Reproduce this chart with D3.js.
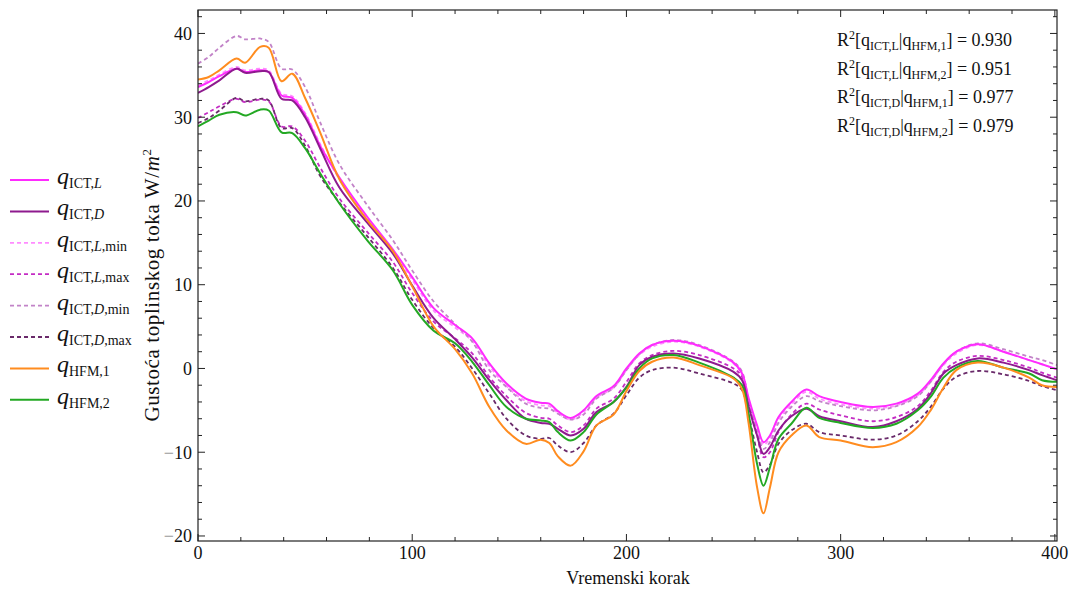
<!DOCTYPE html>
<html>
<head>
<meta charset="utf-8">
<script src="https://cdn.jsdelivr.net/npm/d3@7"></script>
<style>
body { margin: 0; background: #fff; }
text { font-family: "Liberation Serif", "Times New Roman", serif; fill: #111; }
</style>
</head>
<body>
<svg id="chart" width="1069" height="591"></svg>
<script>
var steps = [0, 5, 10, 18, 22, 29, 33, 39, 44, 50, 57, 66, 79, 91, 100, 110, 120, 128, 136, 144,
    153, 160, 164, 168, 174, 180, 186, 194, 200, 206, 212, 222, 234, 250, 254, 257, 261, 264, 267, 271,
    277, 284, 290, 300, 315, 326, 336, 342, 348, 354, 364, 376, 388, 394, 401];

var qIctL = [33.6, 34.2, 34.9, 35.8, 35.4, 35.6, 35.4, 32.6, 32.3, 30.3, 26.6, 22.8, 18.1, 14.2, 10.9, 7.2, 5.2, 3.6, 0.6, -1.8,
    -3.6, -4.1, -4.2, -5.1, -5.9, -5.0, -3.3, -2.1, 0.0, 1.8, 2.8, 3.3, 2.7, 0.7, -0.6, -3.5, -6.8, -8.8, -8.0, -5.8,
    -4.0, -2.5, -3.3, -4.0, -4.6, -4.2, -3.0, -1.4, 0.6, 2.0, 2.9, 2.0, 1.0, 0.5, -0.1];

var qIctD = [32.9, 33.6, 34.4, 35.8, 35.3, 35.5, 35.4, 32.2, 32.0, 30.0, 26.3, 21.6, 17.4, 13.7, 9.9, 6.0, 3.5, 1.3, -1.4, -3.8,
    -6.0, -6.5, -6.6, -7.2, -8.0, -7.2, -5.2, -4.0, -2.2, 0.4, 1.4, 1.8, 1.2, -0.4, -1.4, -4.5, -8.0, -10.2, -9.4, -7.4,
    -5.7, -4.8, -5.7, -6.3, -7.0, -6.3, -4.8, -3.0, -0.6, 0.4, 1.2, 0.7, -0.2, -0.8, -1.4];

var qIctLmin = [33.8, 34.4, 35.1, 36.0, 35.6, 35.8, 35.6, 32.8, 32.5, 30.5, 26.8, 22.6, 18.0, 14.0, 10.6, 6.9, 4.9, 3.3, 0.3, -2.1,
    -3.9, -4.4, -4.5, -5.3, -6.1, -5.2, -3.5, -2.3, -0.2, 1.6, 2.6, 3.2, 2.6, 0.6, -0.8, -3.8, -7.1, -9.1, -8.3, -6.1,
    -4.3, -2.8, -3.6, -4.3, -4.8, -4.4, -3.2, -1.6, 0.4, 1.8, 2.8, 2.0, 1.0, 0.5, -0.1];

var qIctLmax = [29.9, 30.6, 31.3, 32.2, 31.8, 32.1, 31.9, 28.9, 28.9, 27.2, 24.0, 20.3, 16.3, 12.7, 9.0, 5.6, 3.6, 1.8, -1.0, -3.3,
    -5.3, -5.9, -6.0, -6.8, -7.6, -6.8, -4.8, -3.6, -1.6, 0.6, 1.6, 2.1, 1.6, 0.0, -1.0, -4.0, -8.0, -10.6, -10.0, -7.6,
    -5.5, -4.2, -4.9, -5.6, -6.3, -5.8, -4.5, -2.7, -0.4, 0.8, 1.5, 1.0, 0.1, -0.5, -1.1];

var qIctDmin = [36.4, 37.2, 38.3, 39.7, 39.3, 39.4, 39.0, 35.8, 35.7, 33.6, 29.4, 24.4, 19.5, 15.3, 11.7, 8.0, 5.3, 3.2, -0.2, -2.2,
    -4.2, -4.7, -4.8, -5.4, -6.1, -5.5, -3.6, -2.3, -0.2, 1.7, 2.8, 3.4, 2.8, 0.8, -0.4, -3.8, -7.5, -9.6, -8.8, -6.5,
    -4.6, -3.3, -3.9, -4.5, -5.0, -4.5, -3.3, -1.6, 0.5, 2.0, 3.0, 2.3, 1.4, 1.0, 0.4];

var qIctDmax = [29.3, 29.9, 30.8, 32.3, 31.9, 32.2, 32.0, 28.7, 28.7, 26.6, 23.0, 19.8, 15.8, 12.0, 8.2, 4.8, 2.6, 0.0, -3.0, -6.0,
    -8.0, -8.4, -8.3, -9.2, -10.0, -8.9, -6.8, -5.4, -3.2, -1.1, -0.2, 0.1, -0.6, -1.8, -2.6, -5.5, -10.0, -12.4, -11.5, -9.0,
    -7.4, -6.6, -7.6, -8.0, -8.5, -8.0, -6.3, -4.6, -2.4, -1.0, -0.3, -0.7, -1.5, -2.1, -2.6];

var qHfm1 = [34.5, 34.8, 35.6, 37.0, 36.5, 38.4, 38.3, 34.3, 35.2, 32.3, 28.2, 22.6, 17.7, 14.0, 9.8, 5.0, 2.3, -0.6, -4.6, -7.4,
    -9.0, -8.5, -8.9, -10.5, -11.6, -9.9, -6.8, -5.5, -2.7, -0.3, 0.8, 1.3, 0.4, -1.2, -2.5, -6.5, -14.2, -17.3, -14.2, -10.0,
    -8.0, -6.8, -8.2, -8.6, -9.4, -8.8, -7.0, -5.0, -2.3, -0.2, 0.7, 0.1, -1.1, -2.0, -2.2];

var qHfm2 = [28.9, 29.6, 30.3, 30.6, 30.2, 30.9, 30.8, 28.2, 28.1, 26.3, 23.3, 19.7, 15.3, 11.7, 7.6, 4.5, 3.0, 0.8, -2.0, -4.6,
    -6.0, -6.2, -6.4, -7.6, -8.6, -7.6, -5.5, -4.0, -2.3, 0.0, 1.2, 1.6, 0.7, -1.1, -2.0, -5.4, -11.4, -14.0, -11.8, -8.4,
    -6.6, -4.7, -5.9, -6.5, -7.1, -6.6, -5.0, -3.4, -1.1, 0.1, 0.9, 0.1, -0.6, -1.4, -1.6];

var xMajor = [0, 100, 200, 300, 400];
var yMajor = [-20, -10, 0, 10, 20, 30, 40];

// legend subscripts: [text, italic]
var legendSubs = [
    [["ICT,", false], ["L", true]],
    [["ICT,", false], ["D", true]],
    [["ICT,", false], ["L", true], [",min", false]],
    [["ICT,", false], ["L", true], [",max", false]],
    [["ICT,", false], ["D", true], [",min", false]],
    [["ICT,", false], ["D", true], [",max", false]],
    [["HFM,1", false]],
    [["HFM,2", false]]
];

var r2Pairs = [["ICT,L", "HFM,1"], ["ICT,L", "HFM,2"], ["ICT,D", "HFM,1"], ["ICT,D", "HFM,2"]];
var r2Values = ["0.930", "0.951", "0.977", "0.979"];

var series = [
    {values: qIctL, color: "#ff2bff", dash: null, width: 2},
    {values: qIctD, color: "#8e1a8e", dash: null, width: 2},
    {values: qIctLmin, color: "#ff8cff", dash: "4,3", width: 1.8},
    {values: qIctLmax, color: "#c42cc4", dash: "4,3", width: 1.8},
    {values: qIctDmin, color: "#c283c8", dash: "4,3", width: 1.8},
    {values: qIctDmax, color: "#6a2a6a", dash: "4,3", width: 1.8},
    {values: qHfm1, color: "#ff8c1f", dash: null, width: 2},
    {values: qHfm2, color: "#23a823", dash: null, width: 2}
];

var plotL = 198, plotR = 1057, plotT = 10, plotB = 541;

var svg = d3.select("#chart");

var x = d3.scaleLinear().domain([0, 401]).range([plotL, plotR]);
var y = d3.scaleLinear().domain([-20.6, 42.8]).range([plotB, plotT]);

svg.append("clipPath").attr("id", "plot")
    .append("rect")
    .attr("x", plotL).attr("y", plotT)
    .attr("width", plotR - plotL).attr("height", plotB - plotT);

var line = d3.line()
    .x(function (d) { return x(d[0]); })
    .y(function (d) { return y(d[1]); })
    .curve(d3.curveCatmullRom.alpha(0.5));

// dashed lines below the solid ones
var drawOrder = [2, 3, 4, 5, 0, 1, 7, 6];
var g = svg.append("g").attr("clip-path", "url(#plot)");
drawOrder.forEach(function (i) {
    var s = series[i];
    g.append("path")
        .attr("d", line(steps.map(function (t, k) { return [t, s.values[k]]; })))
        .attr("fill", "none")
        .attr("stroke", s.color)
        .attr("stroke-width", s.width)
        .attr("stroke-dasharray", s.dash)
        .attr("stroke-linejoin", "round");
});

// frame
svg.append("rect")
    .attr("x", plotL).attr("y", plotT)
    .attr("width", plotR - plotL).attr("height", plotB - plotT)
    .attr("fill", "none").attr("stroke", "#222").attr("stroke-width", 1.2);

// ticks pointing inward on all four sides
var ticks = svg.append("g").attr("stroke", "#222").attr("stroke-width", 1);
d3.range(0, 401, 20).forEach(function (v) {
    var len = v % 100 === 0 ? 7 : 4;
    ticks.append("line").attr("x1", x(v)).attr("x2", x(v)).attr("y1", plotB).attr("y2", plotB - len);
    ticks.append("line").attr("x1", x(v)).attr("x2", x(v)).attr("y1", plotT).attr("y2", plotT + len);
});
d3.range(-20, 43, 2).forEach(function (v) {
    var len = v % 10 === 0 ? 7 : 4;
    ticks.append("line").attr("x1", plotL).attr("x2", plotL + len).attr("y1", y(v)).attr("y2", y(v));
    ticks.append("line").attr("x1", plotR).attr("x2", plotR - len).attr("y1", y(v)).attr("y2", y(v));
});

// tick labels
xMajor.forEach(function (v) {
    svg.append("text")
        .attr("x", x(v)).attr("y", plotB + 18)
        .attr("text-anchor", "middle")
        .attr("font-size", 18)
        .text(v);
});
yMajor.forEach(function (v) {
    var t = svg.append("text")
        .attr("x", plotL - 6).attr("y", y(v))
        .attr("dy", "0.35em")
        .attr("text-anchor", "end")
        .attr("font-size", 18);
    if (v < 0) {
        t.append("tspan").attr("fill", "#999").text("\u2212");
        t.append("tspan").text(Math.abs(v));
    } else {
        t.text(v);
    }
});

// axis titles
svg.append("text")
    .attr("x", 628).attr("y", 584)
    .attr("text-anchor", "middle")
    .attr("font-size", 18)
    .text("Vremenski korak");

var yt = svg.append("text")
    .attr("transform", "translate(159,285) rotate(-90)")
    .attr("text-anchor", "middle")
    .attr("font-size", 21)
    .attr("letter-spacing", 0.6);
yt.append("tspan").text("Gusto\u0107a toplinskog toka W/");
yt.append("tspan").attr("font-style", "italic").text("m");
yt.append("tspan").attr("font-size", 13).attr("dy", -8).text("2");

// legend
series.forEach(function (s, i) {
    var ly = 180 + i * 31.4;
    svg.append("line")
        .attr("x1", 10).attr("x2", 49)
        .attr("y1", ly).attr("y2", ly)
        .attr("stroke", s.color)
        .attr("stroke-width", s.width)
        .attr("stroke-dasharray", s.dash);
    var t = svg.append("text").attr("x", 57).attr("y", ly + 4);
    t.append("tspan").attr("font-style", "italic").attr("font-size", 24).text("q");
    legendSubs[i].forEach(function (p, k) {
        var sp = t.append("tspan")
            .attr("font-size", 14)
            .attr("font-style", p[1] ? "italic" : "normal")
            .text(p[0]);
        if (k === 0) sp.attr("dy", 4);
    });
});

// R^2 annotations
r2Pairs.forEach(function (p, i) {
    var t = svg.append("text")
        .attr("x", 837).attr("y", 46 + i * 28.5)
        .attr("font-size", 18);
    t.append("tspan").text("R");
    t.append("tspan").attr("font-size", 12).attr("dy", -7).text("2");
    t.append("tspan").attr("dy", 7).text("[q");
    t.append("tspan").attr("font-size", 12).attr("dy", 4).text(p[0]);
    t.append("tspan").attr("dy", -4).text("|q");
    t.append("tspan").attr("font-size", 12).attr("dy", 4).text(p[1]);
    t.append("tspan").attr("dy", -4).text("] = " + r2Values[i]);
});
</script>
</body>
</html>
